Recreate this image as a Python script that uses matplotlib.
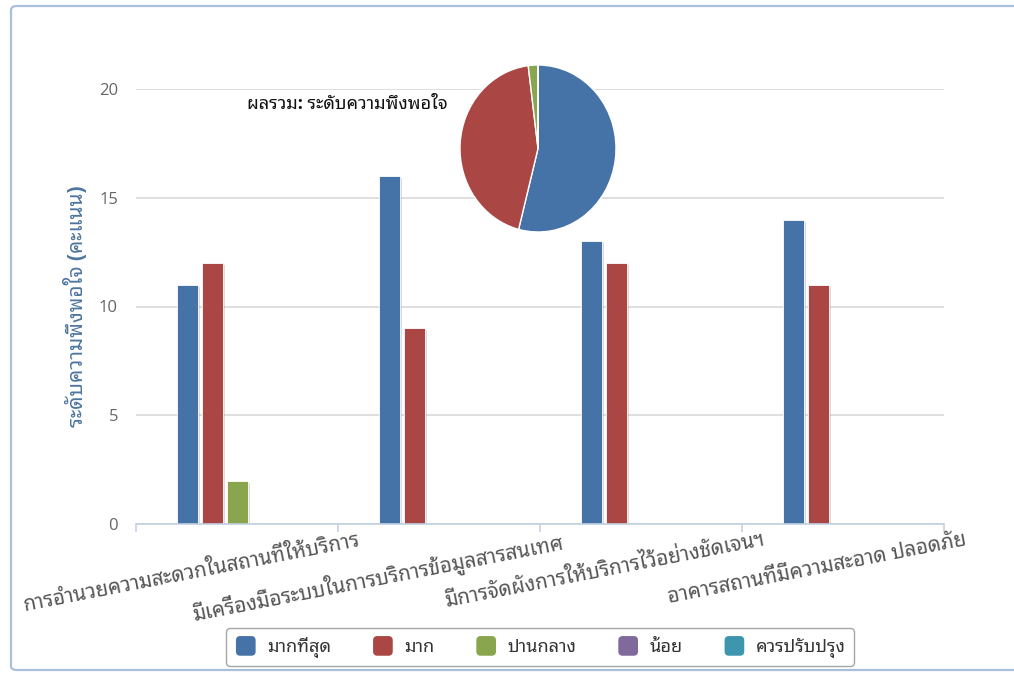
import matplotlib
matplotlib.use("Agg")
import matplotlib.pyplot as plt
from matplotlib import font_manager
from matplotlib.patches import FancyBboxPatch, Rectangle
from matplotlib.legend_handler import HandlerPatch
import matplotlib.patheffects as pe
import numpy as np

# ---------------- data ----------------
categories = [
    "การอำนวยความสะดวกในสถานที่ให้บริการ",
    "มีเครื่องมือระบบในการบริการข้อมูลสารสนเทศ",
    "มีการจัดผังการให้บริการไว้อย่างชัดเจนฯ",
    "อาคารสถานที่มีความสะอาด ปลอดภัย",
]
series_names = ["มากที่สุด", "มาก", "ปานกลาง", "น้อย", "ควรปรับปรุง"]
v_most = [11, 16, 13, 14]
v_much = [12, 9, 12, 11]
v_mid = [2, 0, 0, 0]
v_little = [0, 0, 0, 0]
v_improve = [0, 0, 0, 0]
series_values = [v_most, v_much, v_mid, v_little, v_improve]
pie_values = [sum(v) for v in series_values]
y_ticks = [0, 5, 10, 15, 20]
y_title = "ระดับความพึงพอใจ (คะแนน)"
pie_title = "ผลรวม: ระดับความพึงพอใจ"
colors = ["#4572A7", "#AA4643", "#89A54E", "#80699B", "#3D96AE"]

# ---------------- font with Thai glyphs ----------------
thai_family = None
found = []
try:
    from fontTools.ttLib import TTFont
    for f in font_manager.fontManager.ttflist:
        try:
            tt = TTFont(f.fname, fontNumber=0, lazy=True)
            cmap = tt.getBestCmap()
            if cmap and 0x0E01 in cmap and 0x0E2D in cmap:
                found.append(f.name)
        except Exception:
            pass
except Exception:
    pass
found = sorted(set(found))
pref = ["Noto Sans Thai Looped", "Sarabun", "Noto Sans Thai", "Noto Sans Thai UI",
        "IBM Plex Sans Thai Looped", "Noto Sans", "DejaVu Sans"]
for p in pref:
    if p in found:
        thai_family = p
        break
if thai_family is None and found:
    thai_family = found[0]
fams = ["Open Sans"] + ([thai_family] if thai_family else []) + ["DejaVu Sans"]
plt.rcParams["font.family"] = fams

# ---------------- figure ----------------
W, H = 1014, 673
fig = plt.figure(figsize=(W / 100, H / 100), dpi=100)
fig.patch.set_facecolor("white")

border = FancyBboxPatch((11 / W, 3 / H), (W + 20 - 11) / W, 664 / H,
                        boxstyle="round,pad=0,rounding_size=0.006",
                        transform=fig.transFigure, fill=False,
                        edgecolor="#A9BFDA", linewidth=1.6)
fig.patches.append(border)

left, right = 136 / W, 944 / W
bottom, top = 1 - 524 / H, 1 - 89 / H
ax = fig.add_axes([left, bottom, right - left, top - bottom])

n = len(series_values)
pitch = 25 / 202
bw = 21 / 202
x = np.arange(len(categories))
shadow = [pe.SimplePatchShadow(offset=(1.5, -1.5), shadow_rgbFace="#999999", alpha=0.35), pe.Normal()]
for i, (vals, c, name) in enumerate(zip(series_values, colors, series_names)):
    off = (i - (n - 1) / 2) * pitch
    bars = ax.bar(x + off, vals, width=bw, color=c, edgecolor="#FFFFFF", linewidth=0.6,
                  label=name, zorder=3)
    for b in bars:
        b.set_path_effects(shadow)

ax.set_yticks(y_ticks)
ax.yaxis.grid(True, color="#D6D6D6", linewidth=1.1, zorder=0)
ax.tick_params(axis="y", length=0, pad=13, labelsize=12, labelcolor="#666666")
for s in ["left", "right", "top"]:
    ax.spines[s].set_visible(False)
ax.spines["bottom"].set_color("#C0D0E0")
ax.spines["bottom"].set_linewidth(1.2)
ax.spines["bottom"].set_zorder(4)

# category boundary tick marks, labels drawn as rotated annotations
ax.set_xticks(np.arange(len(categories) + 1) - 0.5)
ax.tick_params(axis="x", length=6, color="#C0D0E0", width=1.1, labelbottom=False)
ax.set_xlim(-0.5, len(categories) - 0.5)
ax.set_ylim(0, 20)
for i, lab in enumerate(categories):
    ax.annotate(lab, xy=(i + 0.6, 0), xycoords=ax.get_xaxis_transform(),
                xytext=(0, -4), textcoords="offset points", rotation=11,
                ha="right", va="top", rotation_mode="anchor", fontsize=14.8,
                color="#555555", annotation_clip=False)

ax.set_ylabel(y_title, fontsize=15, color="#4D759E", fontweight="bold", labelpad=8)

# pie
pax = fig.add_axes([460 / W, 1 - 232 / H, 156 / W, 167 / H])
pax.pie(pie_values, colors=colors, startangle=90, counterclock=False,
        wedgeprops=dict(edgecolor="white", linewidth=1.0))
pax.set_aspect("auto")
pax.set_xlim(-1.0, 1.0)
pax.set_ylim(-1.0, 1.0)
fig.text(347 / W, 1 - 104 / H, pie_title, ha="center", va="center", fontsize=13,
         fontweight="bold", color="#111111")


# legend with rounded square swatches
class RoundHandler(HandlerPatch):
    def create_artists(self, legend, orig_handle, xdescent, ydescent, width, height,
                       fontsize, trans):
        s = min(width, height)
        p = FancyBboxPatch((-xdescent + (width - s) / 2, -ydescent + (height - s) / 2), s, s,
                           boxstyle="round,pad=0,rounding_size=%f" % (s * 0.22),
                           facecolor=orig_handle.get_facecolor(), edgecolor="none",
                           transform=trans)
        return [p]


handles = [Rectangle((0, 0), 1, 1, facecolor=c) for c in colors]
leg = fig.legend(handles, series_names, loc="center", bbox_to_anchor=(540 / W, 1 - 647 / H),
                 ncol=5, frameon=True, fontsize=13, handlelength=1.3, handleheight=1.3,
                 columnspacing=2.2, handletextpad=0.55, borderpad=0.45, fancybox=True,
                 handler_map={Rectangle: RoundHandler()})
leg.get_frame().set_edgecolor("#909090")
leg.get_frame().set_linewidth(1.0)
for t in leg.get_texts():
    t.set_color("#333333")

fig.savefig("out.png", dpi=100)
